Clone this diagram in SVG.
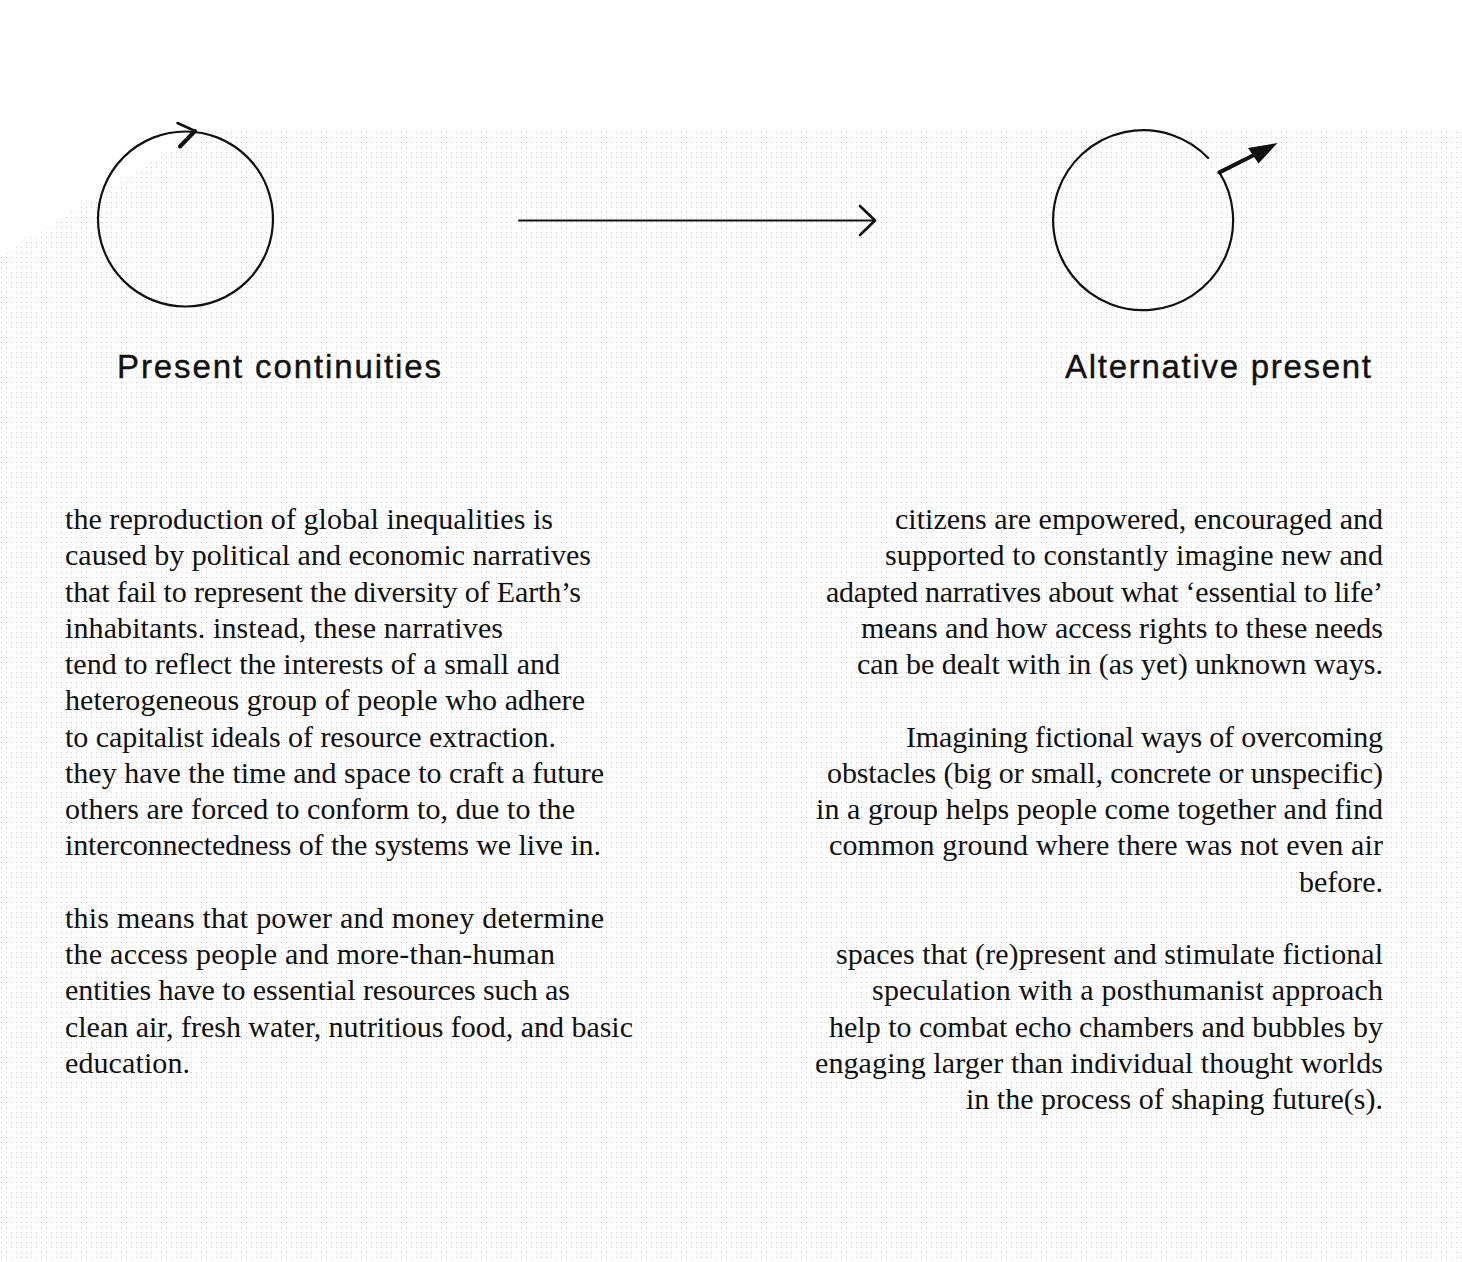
<svg xmlns="http://www.w3.org/2000/svg" width="1462" height="1262" viewBox="0 0 1462 1262">
<defs>
<pattern id="dots" width="5" height="5" patternUnits="userSpaceOnUse">
<rect x="1" y="2" width="1" height="1" fill="#cdcdcd"/>
</pattern>
</defs>
<style>
.line{fill:none;stroke:#111;stroke-linecap:round;stroke-linejoin:round}
.label{font-family:"Liberation Sans",Arial,sans-serif;font-size:33px;fill:#111;stroke:#111;stroke-width:0.4}
.body{font-family:"Liberation Serif","Times New Roman",serif;font-size:30px;fill:#111}
</style>
<rect width="1462" height="1262" fill="#fff"/>
<polygon points="0,256 200,132 1462,132 1462,1262 0,1262" fill="url(#dots)"/>

<g id="node-present-continuities">
<circle class="line" cx="185.5" cy="219" r="87.5" stroke-width="2.2"/>
<polyline class="line" points="177.5,123 195,131" stroke-width="2.6"/>
<polyline class="line" points="195,131 180,146.5" stroke-width="4"/>
<text class="label" x="117" y="378" textLength="324" lengthAdjust="spacing">Present continuities</text>
</g>

<g id="node-alternative-present">
<path class="line" d="M1219.4,172.4 A90,90 0 1,1 1208.1,157.9" stroke-width="2.2"/>
<line class="line" x1="1219.4" y1="172.4" x2="1254" y2="155" stroke-width="4"/>
<polygon points="1248,148 1277.5,143 1258.5,163.5" fill="#111"/>
<text class="label" x="1065" y="378" textLength="306" lengthAdjust="spacing">Alternative present</text>
</g>

<g id="connectors">
<line class="line" x1="519" y1="220.5" x2="874" y2="220.5" stroke-width="2"/>
<polyline class="line" points="860,206 875,220.5 860,235" stroke-width="2.6"/>
</g>

<g id="text-present" class="body">
<text x="65" y="529" textLength="488" lengthAdjust="spacing">the reproduction of global inequalities is</text>
<text x="65" y="565.25" textLength="526" lengthAdjust="spacing">caused by political and economic narratives</text>
<text x="65" y="601.5" textLength="516" lengthAdjust="spacing">that fail to represent the diversity of Earth’s</text>
<text x="65" y="637.75" textLength="438" lengthAdjust="spacing">inhabitants. instead, these narratives</text>
<text x="65" y="674" textLength="495" lengthAdjust="spacing">tend to reflect the interests of a small and</text>
<text x="65" y="710.25" textLength="520" lengthAdjust="spacing">heterogeneous group of people who adhere</text>
<text x="65" y="746.5" textLength="491" lengthAdjust="spacing">to capitalist ideals of resource extraction.</text>
<text x="65" y="782.75" textLength="539" lengthAdjust="spacing">they have the time and space to craft a future</text>
<text x="65" y="819" textLength="510" lengthAdjust="spacing">others are forced to conform to, due to the</text>
<text x="65" y="855.25" textLength="536" lengthAdjust="spacing">interconnectedness of the systems we live in.</text>
<text x="65" y="927.75" textLength="539" lengthAdjust="spacing">this means that power and money determine</text>
<text x="65" y="964" textLength="490" lengthAdjust="spacing">the access people and more-than-human</text>
<text x="65" y="1000.25" textLength="505" lengthAdjust="spacing">entities have to essential resources such as</text>
<text x="65" y="1036.5" textLength="568" lengthAdjust="spacing">clean air, fresh water, nutritious food, and basic</text>
<text x="65" y="1072.75" textLength="125" lengthAdjust="spacing">education.</text>
</g>

<g id="text-alternative" class="body">
<text x="895" y="529" textLength="488" lengthAdjust="spacing">citizens are empowered, encouraged and</text>
<text x="885" y="565.25" textLength="498" lengthAdjust="spacing">supported to constantly imagine new and</text>
<text x="826" y="601.5" textLength="557" lengthAdjust="spacing">adapted narratives about what ‘essential to life’</text>
<text x="861" y="637.75" textLength="522" lengthAdjust="spacing">means and how access rights to these needs</text>
<text x="857" y="674" textLength="526" lengthAdjust="spacing">can be dealt with in (as yet) unknown ways.</text>
<text x="906" y="746.5" textLength="477" lengthAdjust="spacing">Imagining fictional ways of overcoming</text>
<text x="827" y="782.75" textLength="556" lengthAdjust="spacing">obstacles (big or small, concrete or unspecific)</text>
<text x="816" y="819" textLength="567" lengthAdjust="spacing">in a group helps people come together and find</text>
<text x="829" y="855.25" textLength="554" lengthAdjust="spacing">common ground where there was not even air</text>
<text x="1383" y="891.5" text-anchor="end">before.</text>
<text x="836" y="964" textLength="547" lengthAdjust="spacing">spaces that (re)present and stimulate fictional</text>
<text x="872" y="1000.25" textLength="511" lengthAdjust="spacing">speculation with a posthumanist approach</text>
<text x="829" y="1036.5" textLength="554" lengthAdjust="spacing">help to combat echo chambers and bubbles by</text>
<text x="815" y="1072.75" textLength="568" lengthAdjust="spacing">engaging larger than individual thought worlds</text>
<text x="966" y="1109" textLength="417" lengthAdjust="spacing">in the process of shaping future(s).</text>
</g>
</svg>
